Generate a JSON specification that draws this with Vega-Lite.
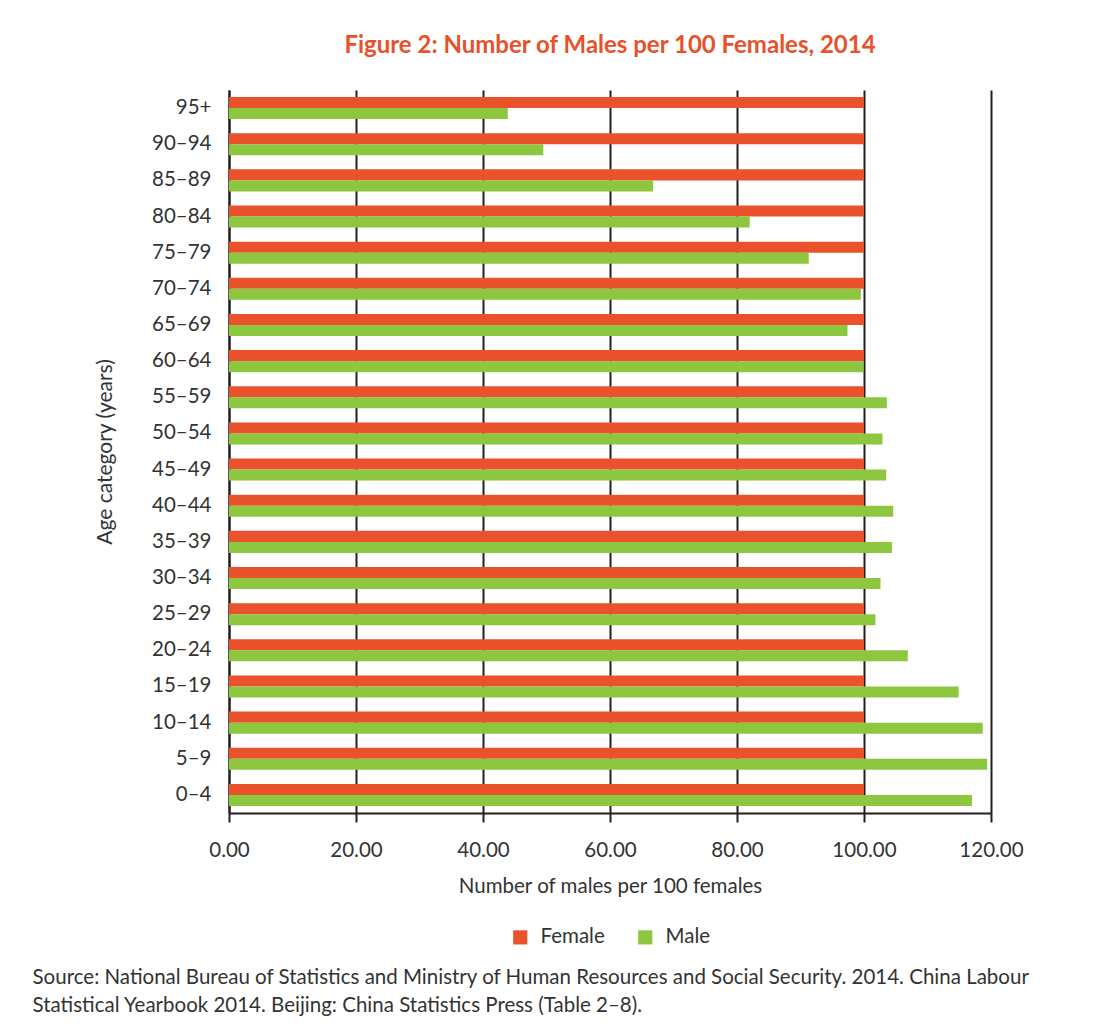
{
  "$schema": "https://vega.github.io/schema/vega-lite/v6.json",
  "background": "white",
  "padding": {"left": 32, "top": 34, "right": 20, "bottom": 10},
  "title": {
    "text": [
      "Source: National Bureau of Statistics and Ministry of Human Resources and Social Security. 2014. China Labour",
      "Statistical Yearbook 2014. Beijing: China Statistics Press (Table 2–8)."
    ],
    "orient": "bottom",
    "anchor": "start",
    "frame": "bounds",
    "dx": -62,
    "offset": 20,
    "font": "Lato",
    "fontSize": 20.5,
    "fontWeight": "normal",
    "color": "#333333",
    "lineHeight": 28,
    "align": "left"
  },
  "data": {
    "values": [
      {"age": "95+", "sex": "Female", "value": 100},
      {"age": "95+", "sex": "Male", "value": 43.9},
      {"age": "90–94", "sex": "Female", "value": 100},
      {"age": "90–94", "sex": "Male", "value": 49.5},
      {"age": "85–89", "sex": "Female", "value": 100},
      {"age": "85–89", "sex": "Male", "value": 66.8},
      {"age": "80–84", "sex": "Female", "value": 100},
      {"age": "80–84", "sex": "Male", "value": 82.0},
      {"age": "75–79", "sex": "Female", "value": 100},
      {"age": "75–79", "sex": "Male", "value": 91.3},
      {"age": "70–74", "sex": "Female", "value": 100},
      {"age": "70–74", "sex": "Male", "value": 99.5},
      {"age": "65–69", "sex": "Female", "value": 100},
      {"age": "65–69", "sex": "Male", "value": 97.4},
      {"age": "60–64", "sex": "Female", "value": 100},
      {"age": "60–64", "sex": "Male", "value": 99.9},
      {"age": "55–59", "sex": "Female", "value": 100},
      {"age": "55–59", "sex": "Male", "value": 103.6},
      {"age": "50–54", "sex": "Female", "value": 100},
      {"age": "50–54", "sex": "Male", "value": 102.9},
      {"age": "45–49", "sex": "Female", "value": 100},
      {"age": "45–49", "sex": "Male", "value": 103.5},
      {"age": "40–44", "sex": "Female", "value": 100},
      {"age": "40–44", "sex": "Male", "value": 104.6},
      {"age": "35–39", "sex": "Female", "value": 100},
      {"age": "35–39", "sex": "Male", "value": 104.4},
      {"age": "30–34", "sex": "Female", "value": 100},
      {"age": "30–34", "sex": "Male", "value": 102.6},
      {"age": "25–29", "sex": "Female", "value": 100},
      {"age": "25–29", "sex": "Male", "value": 101.8},
      {"age": "20–24", "sex": "Female", "value": 100},
      {"age": "20–24", "sex": "Male", "value": 106.9},
      {"age": "15–19", "sex": "Female", "value": 100},
      {"age": "15–19", "sex": "Male", "value": 114.9},
      {"age": "10–14", "sex": "Female", "value": 100},
      {"age": "10–14", "sex": "Male", "value": 118.7},
      {"age": "5–9", "sex": "Female", "value": 100},
      {"age": "5–9", "sex": "Male", "value": 119.4},
      {"age": "0–4", "sex": "Female", "value": 100},
      {"age": "0–4", "sex": "Male", "value": 117.0}
    ]
  },
  "vconcat": [
    {
      "width": 762,
      "height": 723,
      "title": {
        "text": "Figure 2: Number of Males per 100 Females, 2014",
        "font": "Lato",
        "fontSize": 24,
        "fontWeight": "bold",
        "color": "#e8512a",
        "anchor": "middle",
        "frame": "group",
        "offset": 32
      },
      "mark": {"type": "bar"},
      "encoding": {
        "y": {
          "field": "age",
          "type": "nominal",
          "sort": null,
          "scale": {"paddingInner": 0.39, "paddingOuter": 0.195},
          "axis": {
            "title": "Age category (years)",
            "titleFont": "Lato",
            "titleFontSize": 21,
            "titleFontWeight": "normal",
            "titleColor": "#333333",
            "titlePadding": 36,
            "labelFont": "Lato",
            "labelFontSize": 20.5,
            "labelColor": "#333333",
            "labelPadding": 18,
            "ticks": false,
            "domain": true,
            "domainColor": "#231f20",
            "domainWidth": 2,
            "grid": false
          }
        },
        "yOffset": {"field": "sex", "type": "nominal", "sort": ["Female", "Male"]},
        "x": {
          "field": "value",
          "type": "quantitative",
          "scale": {"domain": [0, 120], "nice": false},
          "axis": {
            "title": "Number of males per 100 females",
            "titleFont": "Lato",
            "titleFontSize": 20.5,
            "titleFontWeight": "normal",
            "titleColor": "#333333",
            "titlePadding": 16,
            "values": [0, 20, 40, 60, 80, 100, 120],
            "format": ".2f",
            "labelFont": "Lato",
            "labelFontSize": 20.5,
            "labelColor": "#333333",
            "labelPadding": 18,
            "labelFlush": false,
            "labelOverlap": false,
            "ticks": true,
            "tickSize": 9,
            "tickColor": "#231f20",
            "tickWidth": 2,
            "domain": true,
            "domainColor": "#231f20",
            "domainWidth": 2,
            "grid": true,
            "gridColor": "#231f20",
            "gridWidth": 2,
            "gridOpacity": 1
          }
        },
        "color": {
          "field": "sex",
          "type": "nominal",
          "scale": {"domain": ["Female", "Male"], "range": ["#e9522b", "#8dc63f"]},
          "legend": {
            "title": null,
            "orient": "bottom",
            "direction": "horizontal",
            "symbolType": "square",
            "symbolSize": 200,
            "symbolStrokeWidth": 0,
            "labelFont": "Lato",
            "labelFontSize": 20.5,
            "labelColor": "#333333",
            "labelOffset": 10,
            "columnPadding": 30,
            "offset": 30
          }
        }
      }
    }
  ],
  "config": {
    "view": {"stroke": null},
    "bar": {"opacity": 1},
    "legend": {"layout": {"bottom": {"anchor": "middle"}}}
  }
}
